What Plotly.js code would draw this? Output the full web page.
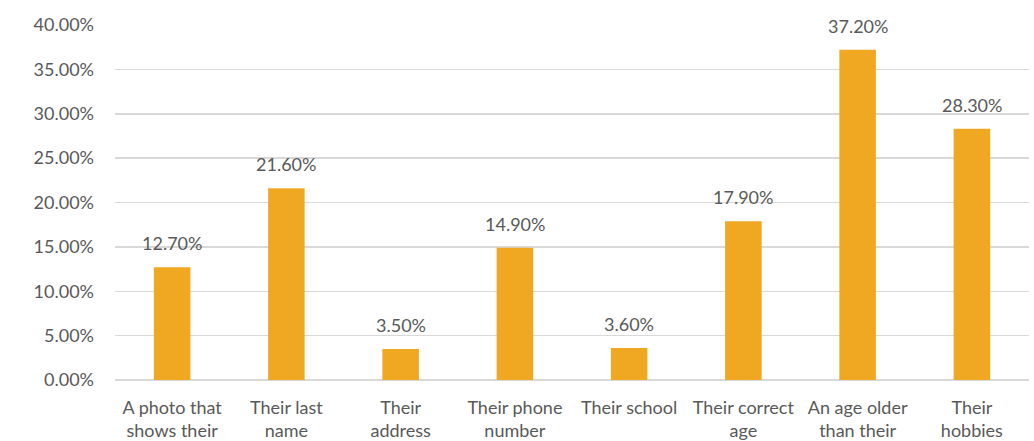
<!DOCTYPE html>
<html>
<head>
<meta charset="utf-8">
<script src="https://cdn.plot.ly/plotly-3.0.1.min.js"></script>
<style>
  html, body { margin: 0; padding: 0; background: #ffffff; }
  #chart { width: 1034px; height: 441px; }
</style>
</head>
<body>
<div id="chart"></div>
<script>
// Category labels, wrapped the way they appear under each bar
const categories = [
  "A photo that<br>shows their",
  "Their last<br>name",
  "Their<br>address",
  "Their phone<br>number",
  "Their school",
  "Their correct<br>age",
  "An age older<br>than their",
  "Their<br>hobbies"
];

// Share of respondents for each item
const shares = [0.127, 0.216, 0.035, 0.149, 0.036, 0.179, 0.372, 0.283];

// Y axis ticks
const yTickVals = [0, 0.05, 0.10, 0.15, 0.20, 0.25, 0.30, 0.35, 0.40];

const textGrey = "#595959";
const fontFamily = "Lato, 'Open Sans', sans-serif";
const fontSize = 18;

const trace = {
  type: "bar",
  x: categories,
  y: shares,
  marker: { color: "#F0A823", line: { width: 0 } },
  hoverinfo: "skip"
};

// Value labels sitting above each bar
const annotations = categories.map((c, i) => ({
  x: c,
  y: shares[i],
  text: (shares[i] * 100).toFixed(2) + "%",
  showarrow: false,
  yanchor: "bottom",
  yshift: 11,
  font: { family: fontFamily, size: fontSize, color: textGrey }
}));

const layout = {
  width: 1034,
  height: 441,
  margin: { l: 115, r: 5, t: 25, b: 61 },
  paper_bgcolor: "#ffffff",
  plot_bgcolor: "#ffffff",
  showlegend: false,
  bargap: 0.68,
  font: { family: fontFamily, size: fontSize, color: textGrey },
  xaxis: {
    type: "category",
    showgrid: false,
    showline: false,
    zeroline: false,
    ticks: "",
    ticklabelstandoff: 15,
    tickfont: { family: fontFamily, size: fontSize, color: textGrey },
    automargin: false
  },
  yaxis: {
    range: [0, 0.40],
    tickvals: yTickVals,
    tickformat: ".2%",
    showgrid: true,
    gridcolor: "#D9D9D9",
    gridwidth: 1.5,
    zeroline: true,
    zerolinecolor: "#D9D9D9",
    zerolinewidth: 1.5,
    showline: false,
    ticks: "",
    ticklabelstandoff: 20,
    tickfont: { family: fontFamily, size: fontSize, color: textGrey },
    automargin: false
  },
  annotations: annotations
};

Plotly.newPlot("chart", [trace], layout, { staticPlot: true, displayModeBar: false });
</script>
</body>
</html>
